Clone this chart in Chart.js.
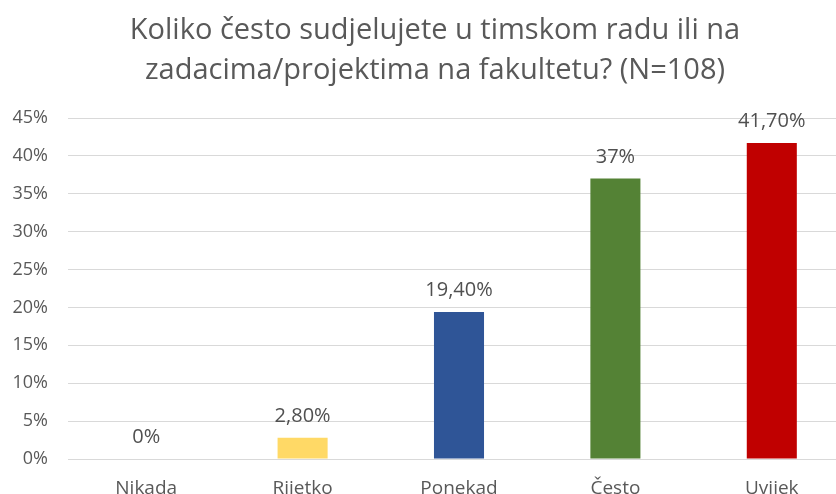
<!DOCTYPE html>
<html>
<head>
<meta charset="utf-8">
<script src="https://cdn.jsdelivr.net/npm/chart.js@4/dist/chart.umd.min.js"></script>
<style>
  html, body { margin: 0; padding: 0; background: #fff; overflow: hidden; }
  #wrap { width: 850px; height: 520px; }
</style>
</head>
<body>
<div id="wrap"><canvas id="chart" width="850" height="520"></canvas></div>
<script>
'use strict';

// Chart data
const categories = ['Nikada', 'Rijetko', 'Ponekad', 'Često', 'Uvijek'];
const percentages = [0, 2.8, 19.4, 37, 41.7];
const valueLabels = ['0%', '2,80%', '19,40%', '37%', '41,70%'];
const barColors = ['#FFD966', '#FFD966', '#2F5597', '#548235', '#C00000'];
const titleLines = ['Koliko često sudjelujete u timskom radu ili na', 'zadacima/projektima na fakultetu? (N=108)'];

const fontFamily = '"Open Sans", sans-serif';
const textColor = '#595959';

// Title drawn manually so it can be centred like the original
const titlePlugin = {
    id: 'twoLineTitle',
    afterDraw: function(chart) {
        const ctx = chart.ctx;
        ctx.save();
        ctx.font = '29px ' + fontFamily;
        ctx.fillStyle = textColor;
        ctx.textAlign = 'center';
        ctx.textBaseline = 'middle';
        titleLines.forEach(function(line, i) {
            ctx.fillText(line, 435, 31 + i * 40);
        });
        ctx.restore();
    }
};

// Value labels above the bars
const valueLabelPlugin = {
    id: 'valueLabels',
    afterDatasetsDraw: function(chart) {
        const ctx = chart.ctx;
        const meta = chart.getDatasetMeta(0);
        ctx.save();
        ctx.font = '20px ' + fontFamily;
        ctx.fillStyle = '#505050';
        ctx.textAlign = 'center';
        ctx.textBaseline = 'alphabetic';
        meta.data.forEach(function(bar, i) {
            ctx.fillText(valueLabels[i], bar.x, bar.y - 16);
        });
        ctx.restore();
    }
};

const ctx = document.getElementById('chart').getContext('2d');
new Chart(ctx, {
    type: 'bar',
    data: {
        labels: categories,
        datasets: [{
            data: percentages,
            backgroundColor: barColors,
            borderWidth: 0,
            categoryPercentage: 1,
            barPercentage: 0.32
        }]
    },
    options: {
        responsive: false,
        animation: false,
        layout: { padding: { top: 118, right: 0, left: 0, bottom: 0 } },
        plugins: {
            legend: { display: false },
            tooltip: { enabled: false }
        },
        scales: {
            x: {
                grid: { display: false },
                border: { display: false },
                ticks: {
                    color: textColor,
                    font: { family: fontFamily, size: 19 },
                    padding: 10
                },
                afterFit: function(scale) { scale.height = 61; }
            },
            y: {
                min: 0,
                max: 45,
                grid: { color: '#d9d9d9', drawTicks: false },
                border: { display: false },
                ticks: {
                    stepSize: 5,
                    color: textColor,
                    font: { family: fontFamily, size: 18 },
                    padding: 20,
                    callback: function(value) { return value + '%'; }
                },
                afterFit: function(scale) { scale.width = 68; }
            }
        }
    },
    plugins: [titlePlugin, valueLabelPlugin]
});
</script>
</body>
</html>
